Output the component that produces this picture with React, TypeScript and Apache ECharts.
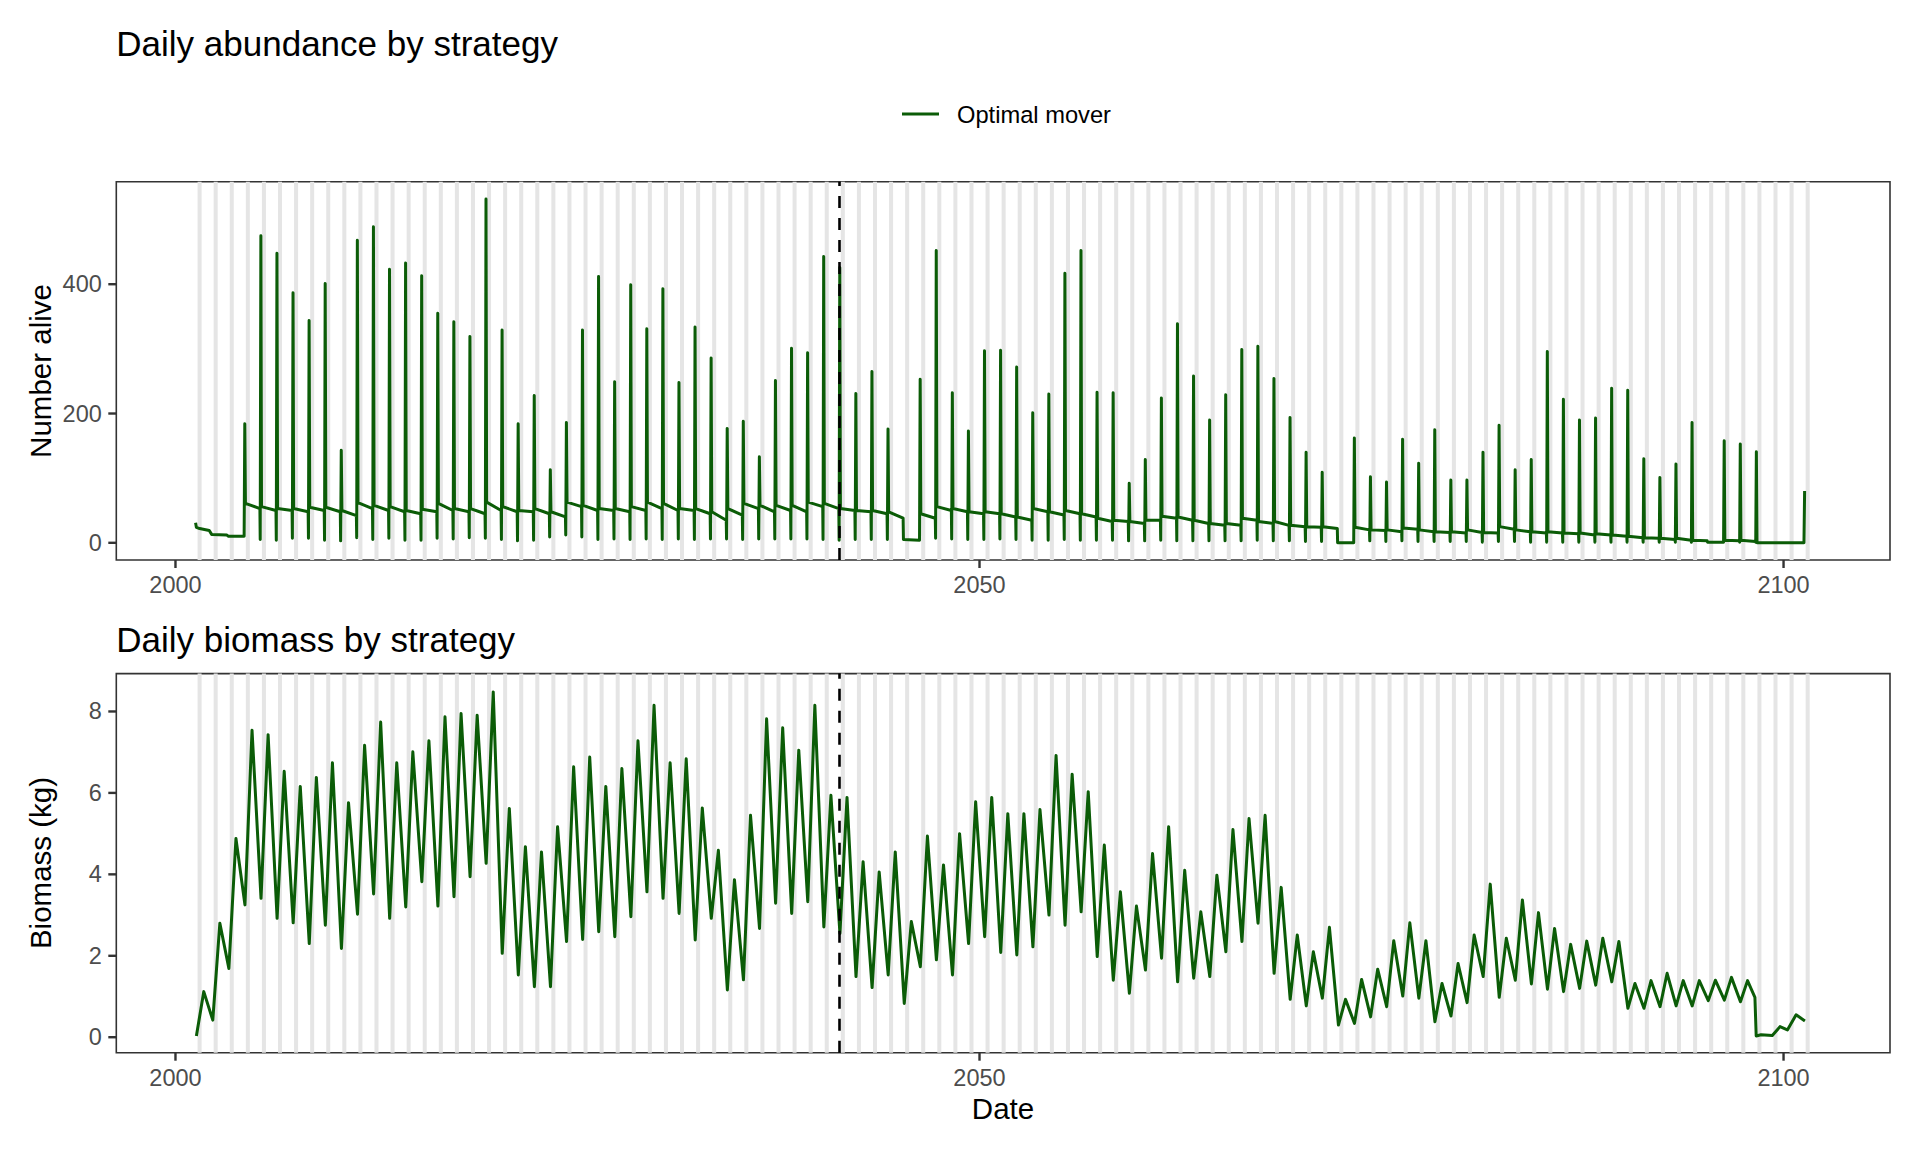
import React, { useEffect, useRef } from 'react';
import * as echarts from 'echarts';

const FONT = '"Liberation Sans", Arial, Helvetica, sans-serif';
const GREEN = '#0b5c07';

// ---------- Daily abundance (top panel) ----------
const abundanceStart: [number, number][] = [
  [2001.25, 31], [2001.3, 24], [2001.5, 22], [2002.1, 19], [2002.25, 13],
  [2003.2, 12], [2003.3, 10], [2004.27, 10],
];
const abundanceFirstYear = 2004;
// yearly recruitment spike height (null = no spike that year)
const abundancePeak: (number | null)[] = [
  184, 475, 448, 387, 344, 401, 143, 468, 489, 423, 433, 413, 355, 342, 319, 532, 329, 184, 228, 113, 186, 329,
  412, 249, 399, 331, 393, 248, 334, 286, 177, 188, 133, 251, 301, 294, 443, 426, 231, 265, 176, null, 253, 452, 232, 173, 297, 298, 272,
  201, 230, 417, 452, 233, 232, 92, 129, 224, 339, 258, 190, 229, 299, 304, 254, 194, 140, 109, null, 162, 102, 94, 160, 123, 175, 97,
  97, 140, 182, 113, 129, 296, 222, 190, 193, 239, 236, 130, 101, 122, 186, null, 158, 153, 141, null, null, 80,
];
const abundanceBaseStart: (number | null)[] = [
  61, 56, 53, 53, 55, 55, 50, 62, 58, 56, 50, 52, 61, 53, 53, 63, 56, 50, 53, 48, 63, 58,
  53, 53, 56, 63, 61, 53, 53, 48, 53, 61, 58, 58, 58, 63, 61, 53, 50, 50, 48, null, 45, 56, 53, 48, 48, 45, 40,
  53, 48, 50, 45, 38, 35, 33, 35, 41, 40, 35, 30, 30, 38, 33, 33, 27, 25, 25, null, 24, 20, 20, 23, 20, 17, 17,
  20, 16, 25, 20, 17, 17, 15, 15, 14, 12, 10, 8, 7, 7, 4, null, 4, 4, 0, null, null, null,
];
const abundanceBaseEnd: (number | null)[] = [
  53, 50, 50, 48, 50, 48, 42, 53, 50, 48, 45, 48, 50, 48, 45, 50, 48, 48, 45, 40, 56, 50,
  50, 48, 50, 53, 50, 50, 45, 35, 43, 53, 48, 50, 48, 56, 53, 50, 48, 45, 38, null, 38, 50, 48, 45, 45, 40, 35,
  48, 43, 45, 40, 33, 33, 30, 35, 38, 35, 30, 27, 27, 35, 30, 27, 25, 24, 22, null, 20, 19, 17, 21, 17, 16, 15,
  16, 15, 21, 17, 15, 15, 14, 12, 12, 10, 8, 7, 5, 4, 3, null, 3, 2, 0, null, null, null,
];
const abundanceTrough: number[] = [
  10, 5, 4, 7, 7, 4, 3, 8, 5, 7, 4, 4, 7, 6, 8, 7, 5, 3, 4, 9, 12, 9,
  5, 6, 5, 6, 5, 6, 5, 6, 6, 5, 6, 6, 6, 6, 5, 4, 5, 5, 5, 5, 4, 7, 6, 5, 5, 6, 5,
  4, 4, 5, 4, 4, 4, 3, 3, 4, 3, 3, 3, 3, 3, 4, 3, 3, 2, 2, 0, 0, 3, 2, 3, 2, 2, 2,
  2, 1, 2, 2, 1, 1, 1, 1, 1, 1, 1, 1, 1, 1, 1, 1, 1, 1, 1, 0, 0, 0,
];

// ---------- Daily biomass (bottom panel) ----------
const biomassStart: [number, number][] = [[2001.3, 0.03]];
const biomassFirstYear = 2001;
const biomassPeak: number[] = [
  1.12, 2.80, 4.88, 7.54, 7.43, 6.53, 6.16, 6.38, 6.74, 5.76,
  7.17, 7.74, 6.74, 7.01, 7.28, 7.87, 7.95, 7.91, 8.48, 5.62,
  4.68, 4.55, 5.17, 6.64, 6.88, 6.16, 6.60, 7.28, 8.15, 6.74,
  6.84, 5.63, 4.59, 3.87, 5.45, 7.82, 7.60, 7.05, 8.15, 5.94,
  5.89, 4.31, 4.06, 4.55, 2.84, 4.94, 4.23, 5.00, 5.78, 5.89,
  5.49, 5.49, 5.59, 6.92, 6.46, 6.03, 4.72, 3.57, 3.22, 4.51,
  5.17, 4.10, 3.08, 3.98, 5.10, 5.37, 5.45, 3.68, 2.51, 2.10,
  2.70, 0.93, 1.42, 1.67, 2.37, 2.81, 2.37, 1.32, 1.81, 2.51,
  3.76, 2.43, 3.37, 3.06, 2.67, 2.28, 2.36, 2.43, 2.35, 1.32,
  1.39, 1.57, 1.39, 1.39, 1.40, 1.47, 1.39,
];
const biomassTrough: number[] = [
  0.42, 1.69, 3.25, 3.41, 2.92, 2.81, 2.30, 2.75, 2.18,
  3.02, 3.52, 2.92, 3.20, 3.82, 3.22, 3.45, 3.94, 4.27, 2.06,
  1.53, 1.24, 1.24, 2.35, 2.40, 2.59, 2.47, 2.96, 3.57, 3.41,
  3.04, 2.39, 2.92, 1.16, 1.41, 2.67, 3.29, 3.04, 3.33, 2.71,
  2.55, 1.49, 1.22, 1.53, 0.83, 1.73, 1.90, 1.53, 2.30, 2.47,
  2.08, 2.02, 2.22, 3.00, 2.75, 3.08, 1.98, 1.40, 1.08, 1.65,
  1.94, 1.36, 1.45, 1.49, 2.10, 2.35, 2.80, 1.57, 0.93, 0.77,
  0.96, 0.30, 0.34, 0.50, 0.75, 1.01, 0.96, 0.38, 0.52, 0.85,
  1.49, 0.98, 1.40, 1.31, 1.18, 1.12, 1.20, 1.28, 1.36, 0.71,
  0.71, 0.75, 0.77, 0.77, 0.90, 0.91, 0.87,
];
const biomassTail: [number, number][] = [
  [2098.22, 0.98], [2098.3, 0.03], [2098.6, 0.06], [2099.3, 0.04],
  [2099.78, 0.26], [2100.24, 0.18], [2100.78, 0.55], [2101.33, 0.40],
];

// ---------- shared ----------
const bandFirstYear = 2001;
const bandLastYear = 2101;
const cutoffDate = 2041.3;
const xTicks = [2000, 2050, 2100];
const abundanceTicks = [0, 200, 400];
const biomassTicks = [0, 2, 4, 6, 8];

// timing within a year (fraction of year)
const T_DROP = 0.27, T_PEAK = 0.31, T_SETTLE = 0.35, T_END = 1.25;
const T_BIO_PEAK = 0.76, T_BIO_TROUGH = 0.32;
const BAND_FROM = 0.375, BAND_TO = 0.625;

function buildAbundance(): [number, number][] {
  const pts: [number, number][] = [...abundanceStart];
  abundancePeak.forEach((pk, i) => {
    const y = abundanceFirstYear + i;
    pts.push([y + T_DROP, abundanceTrough[i]]);
    if (pk !== null) {
      pts.push([y + T_PEAK, pk]);
      const bs = abundanceBaseStart[i];
      const be = abundanceBaseEnd[i];
      if (bs !== null && be !== null) {
        pts.push([y + T_SETTLE, bs]);
        pts.push([y + T_END, be]);
      }
    }
  });
  return pts;
}

function buildBiomass(): [number, number][] {
  const pts: [number, number][] = [...biomassStart];
  biomassPeak.forEach((pk, i) => {
    const y = biomassFirstYear + i;
    pts.push([y + T_BIO_PEAK, pk]);
    if (i < biomassTrough.length) pts.push([y + 1 + T_BIO_TROUGH, biomassTrough[i]]);
  });
  return pts.concat(biomassTail);
}

function buildBands(): number[][] {
  const out: number[][] = [];
  for (let y = bandFirstYear; y <= bandLastYear; y++) out.push([y + BAND_FROM, y + BAND_TO, 0]);
  return out;
}

const X_MIN = 1996.32, X_MAX = 2106.62;
const A_MIN = -26.6, A_MAX = 558.6;
const B_MIN = -0.38, B_MAX = 8.93;
const TICK_LEN = 8;
const TICK_W = 2.4;
const AXIS_GREY = '#333333';

export default function App() {
  const ref = useRef<HTMLDivElement>(null);
  useEffect(() => {
    if (!ref.current) return;
    const chart = echarts.init(ref.current, null, { renderer: 'svg' });
    const bands = buildBands();
    const bandRender = (params: any, api: any) => {
      const a = api.coord([api.value(0), 0]);
      const b = api.coord([api.value(1), 0]);
      const cs = params.coordSys;
      return {
        type: 'rect',
        shape: { x: a[0], y: cs.y, width: b[0] - a[0], height: cs.height },
        style: { fill: '#E5E5E5' },
      };
    };
    const xTickRender = (params: any, api: any) => {
      const p = api.coord([api.value(0), api.value(1)]);
      return {
        type: 'line',
        shape: { x1: p[0], y1: p[1], x2: p[0], y2: p[1] + TICK_LEN },
        style: { stroke: AXIS_GREY, lineWidth: TICK_W },
      };
    };
    const yTickRender = (params: any, api: any) => {
      const p = api.coord([api.value(0), api.value(1)]);
      return {
        type: 'line',
        shape: { x1: p[0], y1: p[1], x2: p[0] - TICK_LEN, y2: p[1] },
        style: { stroke: AXIS_GREY, lineWidth: TICK_W },
      };
    };
    const axisLine = { show: false, onZero: false };
    const xAxisCommon = (gridIndex: number) => ({
      gridIndex,
      type: 'value',
      min: X_MIN,
      max: X_MAX,
      axisLine,
      splitLine: { show: false },
      axisTick: { show: false },
      axisLabel: {
        customValues: xTicks,
        margin: 13,
        color: '#4D4D4D',
        fontSize: 23.5,
        fontFamily: FONT,
        formatter: (v: number) => String(v),
      },
    });
    const yAxisCommon = (gridIndex: number, min: number, max: number, ticks: number[]) => ({
      gridIndex,
      type: 'value',
      min,
      max,
      axisLine,
      splitLine: { show: false },
      axisTick: { show: false },
      axisLabel: {
        customValues: ticks,
        margin: 14.5,
        color: '#4D4D4D',
        fontSize: 23.5,
        fontFamily: FONT,
        formatter: (v: number) => String(v),
      },
    });
    const markLine = {
      silent: true,
      symbol: ['none', 'none'],
      label: { show: false },
      lineStyle: { type: [12, 10], color: '#000000', width: 2.6 },
      data: [{ xAxis: cutoffDate }],
      animation: false,
    };
    const textStyle = (size: number) => ({ fontSize: size, fontFamily: FONT, fill: '#000000' });
    const tickSeries = (axisIndex: number, yMin: number, yTicks: number[]) => [
      {
        type: 'custom', xAxisIndex: axisIndex, yAxisIndex: axisIndex, clip: false, silent: true, z: 10,
        data: xTicks.map((v) => [v, yMin]), encode: { x: 0, y: 1 }, renderItem: xTickRender,
      },
      {
        type: 'custom', xAxisIndex: axisIndex, yAxisIndex: axisIndex, clip: false, silent: true, z: 10,
        data: yTicks.map((v) => [X_MIN, v]), encode: { x: 0, y: 1 }, renderItem: yTickRender,
      },
    ];
    chart.setOption({
      animation: false,
      backgroundColor: '#ffffff',
      grid: [
        { left: 116.3, top: 181.7, width: 1773.7, height: 378.3, show: true, borderColor: AXIS_GREY, borderWidth: 1.6, backgroundColor: 'transparent' },
        { left: 116.3, top: 673.6, width: 1773.7, height: 379.1, show: true, borderColor: AXIS_GREY, borderWidth: 1.6, backgroundColor: 'transparent' },
      ],
      xAxis: [xAxisCommon(0), xAxisCommon(1)],
      yAxis: [
        yAxisCommon(0, A_MIN, A_MAX, abundanceTicks),
        yAxisCommon(1, B_MIN, B_MAX, biomassTicks),
      ],
      series: [
        { type: 'custom', xAxisIndex: 0, yAxisIndex: 0, data: bands, encode: { x: [0, 1], y: 2 }, renderItem: bandRender, silent: true, z: 1 },
        { type: 'custom', xAxisIndex: 1, yAxisIndex: 1, data: bands, encode: { x: [0, 1], y: 2 }, renderItem: bandRender, silent: true, z: 1 },
        {
          name: 'Optimal mover', type: 'line', xAxisIndex: 0, yAxisIndex: 0, data: buildAbundance(),
          showSymbol: false, symbol: 'none', smooth: false, clip: true, z: 3,
          lineStyle: { color: GREEN, width: 3, join: 'round' }, markLine,
        },
        {
          name: 'Optimal mover', type: 'line', xAxisIndex: 1, yAxisIndex: 1, data: buildBiomass(),
          showSymbol: false, symbol: 'none', smooth: false, clip: true, z: 3,
          lineStyle: { color: GREEN, width: 3, join: 'round' }, markLine,
        },
        ...tickSeries(0, A_MIN, abundanceTicks),
        ...tickSeries(1, B_MIN, biomassTicks),
      ],
      graphic: [
        { type: 'text', x: 116.3, y: 43.5, style: { ...textStyle(35), text: 'Daily abundance by strategy', align: 'left', verticalAlign: 'middle' } },
        { type: 'line', shape: { x1: 902, y1: 114, x2: 939, y2: 114 }, style: { stroke: GREEN, lineWidth: 3 } },
        { type: 'text', x: 957, y: 114.5, style: { ...textStyle(23.7), text: 'Optimal mover', align: 'left', verticalAlign: 'middle' } },
        { type: 'text', x: 116.3, y: 639.5, style: { ...textStyle(35), text: 'Daily biomass by strategy', align: 'left', verticalAlign: 'middle' } },
        { type: 'text', x: 40, y: 371, rotation: Math.PI / 2, style: { ...textStyle(29.5), text: 'Number alive', align: 'center', verticalAlign: 'middle' } },
        { type: 'text', x: 40, y: 863, rotation: Math.PI / 2, style: { ...textStyle(29.5), text: 'Biomass (kg)', align: 'center', verticalAlign: 'middle' } },
        { type: 'text', x: 1003, y: 1108, style: { ...textStyle(29.5), text: 'Date', align: 'center', verticalAlign: 'middle' } },
      ],
    });
    return () => chart.dispose();
  }, []);
  return (
    <div
      ref={ref}
      style={{ position: 'fixed', left: 0, top: 0, width: 1920, height: 1152, background: '#ffffff' }}
    />
  );
}
